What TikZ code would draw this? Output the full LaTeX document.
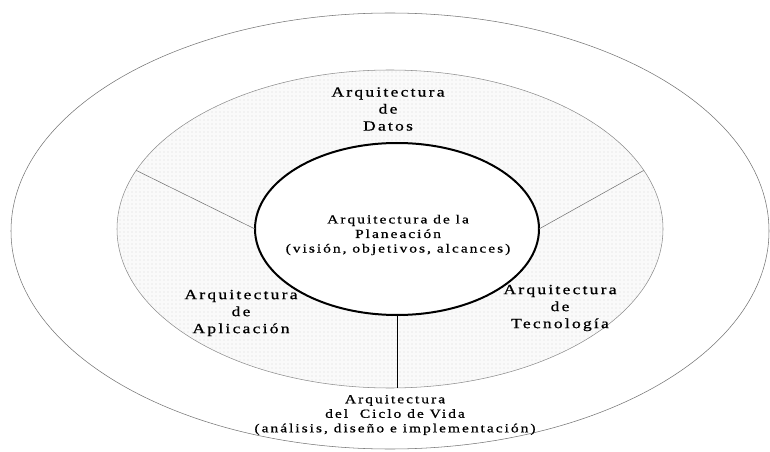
\documentclass[tikz,border=0pt]{standalone}
\usepackage{fontspec}
\setmainfont{Liberation Serif}[LetterSpace=16,FakeStretch=1.25,FakeBold=0.8]
\usetikzlibrary{shapes.geometric,patterns}

\begin{document}
\begin{tikzpicture}
    [x=0.75pt,y=-0.75pt,
     e/.style={ellipse,inner sep=0pt,outer sep=0pt},
     big/.style={align=center,font=\fontsize{10.5}{12.75}\selectfont},
     small/.style={align=center,font=\fontsize{9.3}{10.9}\selectfont}]
    \useasboundingbox (0,0) rectangle (770,452);
    \node[e,draw=black!55,minimum width=568.5pt,minimum height=327pt](o) at (390,231){};
    \node[e,draw=black!45,preaction={fill=black!2},pattern=dots,pattern color=black!15,
          minimum width=409.5pt,minimum height=238.5pt](m) at (390,229){};
    \node[e,draw,line width=1.5pt,fill=white,minimum width=213pt,minimum height=129pt](c) at (397,229){};
    \path[draw=black!55](c.west) -- (m.167)
         (c.east) -- (m.13);
    \draw(c.south) -- (c.south |- m.south);
    \node[big](d) at (388,109){Arquitectura\\de\\Datos};
    \node[big](a) at (241,313){Arquitectura\\de\\Aplicación};
    \node[big](t) at (560,308){Arquitectura\\de\\Tecnología};
    \node[small](p) at (398,235){Arquitectura de la\\Planeación\\(visión, objetivos, alcances)};
    \node[small](v) at (395,415){Arquitectura\\del~~Ciclo de Vida\\(análisis, diseño e implementación)};
\end{tikzpicture}
\end{document}
